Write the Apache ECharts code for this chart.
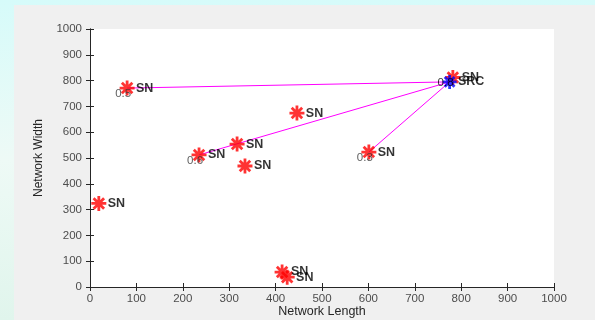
<!DOCTYPE html>
<html><head><meta charset="utf-8">
<script src="https://cdn.jsdelivr.net/npm/echarts@6/dist/echarts.min.js"></script>
<style>
html,body{margin:0;padding:0;width:595px;height:320px;overflow:hidden;background:linear-gradient(180deg,#d6fbfa 0%,#eefaf6 50%,#e0f5ec 100%);}
#bg{position:absolute;left:14px;top:5px;width:581px;height:315px;background:#f0f0f0;}
#chart{position:absolute;left:0;top:0;width:595px;height:320px;}
</style></head>
<body><div id="bg"></div><div id="chart"></div>
<script>
const nodeX = [80, 782, 446, 317, 235, 334, 19, 601, 414, 425];
const nodeY = [771, 812, 674, 554, 512, 469, 324, 523, 58, 38];
const nodeWeight = ['0.5', '', '', '', '0.6', '', '', '0.3', '', ''];
const srcX = 775, srcY = 795, srcWeight = '0.8';
const linkedNodes = [0, 4, 7];

const star = 'path://M0,-10L0,10M-10,0L10,0M-7,-7L7,7M-7,7L7,-7';
const chart = echarts.init(document.getElementById('chart'));
const font = 'Liberation Sans, Arial, sans-serif';
const axisCommon = {
  type:'value', min:0, max:1000, interval:100,
  axisLine:{show:true,lineStyle:{color:'#262626',width:1}},
  axisTick:{show:true,inside:true,length:4,lineStyle:{color:'#262626'}},
  splitLine:{show:false}
};
const series = [];
linkedNodes.forEach(i => {
  series.push({type:'line', data:[[srcX,srcY],[nodeX[i],nodeY[i]]], symbol:'none',
    lineStyle:{color:'#ff00ff',width:1}, z:1, silent:true});
});
series.push({
  type:'scatter', symbol:star, symbolSize:15,
  itemStyle:{color:'rgba(0,0,0,0)',borderColor:'#ff0000',borderWidth:2.8},
  data: nodeX.map((x,i)=>({value:[x,nodeY[i]]})),
  label:{show:true,position:'right',distance:0,formatter:'SN',color:'#000',fontSize:12.5,fontWeight:'bold',fontFamily:font},
  z:3
});
series.push({
  type:'scatter', symbol:'circle', symbolSize:0.01,
  itemStyle:{color:'rgba(0,0,0,0)'},
  data: nodeX.map((x,i)=>({value:[x,nodeY[i]], w:nodeWeight[i]})).filter(d=>d.w),
  label:{show:true,position:'inside',offset:[-4,6],formatter:p=>p.data.w,color:'#333',fontSize:11.5,fontFamily:font},
  z:4
});
series.push({
  type:'scatter', symbol:star, symbolSize:14,
  itemStyle:{color:'rgba(0,0,0,0)',borderColor:'#0000ff',borderWidth:2.8},
  data:[[srcX,srcY]],
  label:{show:true,position:'right',distance:0,formatter:'SRC',color:'#000',fontSize:12.5,fontWeight:'bold',fontFamily:font},
  z:5
});
series.push({
  type:'scatter', symbol:'circle', symbolSize:0.01,
  itemStyle:{color:'rgba(0,0,0,0)'},
  data:[[srcX,srcY]],
  label:{show:true,position:'inside',offset:[-4,1],formatter:srcWeight,color:'#000',fontSize:11.5,fontFamily:font},
  z:6
});
const tickFmt = v => String(v);
chart.setOption({
  animation:false,
  grid:{left:90,right:41,top:29,bottom:33,show:true,backgroundColor:'#ffffff',borderWidth:0,outerBoundsMode:'none',containLabel:false},
  xAxis:[
    Object.assign({},axisCommon,{position:'bottom',
      name:'Network Length',nameLocation:'middle',nameGap:18,nameMoveOverlap:false,
      nameTextStyle:{color:'#262626',fontSize:12.5,fontFamily:font},
      axisLabel:{color:'#4d4d4d',fontSize:11.5,fontFamily:font,margin:6,formatter:tickFmt}}),
    Object.assign({},axisCommon,{position:'top',axisLabel:{show:false}})
  ],
  yAxis:[
    Object.assign({},axisCommon,{position:'left',
      name:'Network Width',nameLocation:'middle',nameGap:45,nameMoveOverlap:false,
      nameTextStyle:{color:'#262626',fontSize:12,fontFamily:font},
      axisLabel:{color:'#4d4d4d',fontSize:11.5,fontFamily:font,margin:8,formatter:tickFmt}}),
    Object.assign({},axisCommon,{position:'right',axisLabel:{show:false}})
  ],
  series: series
});
</script></body></html>
